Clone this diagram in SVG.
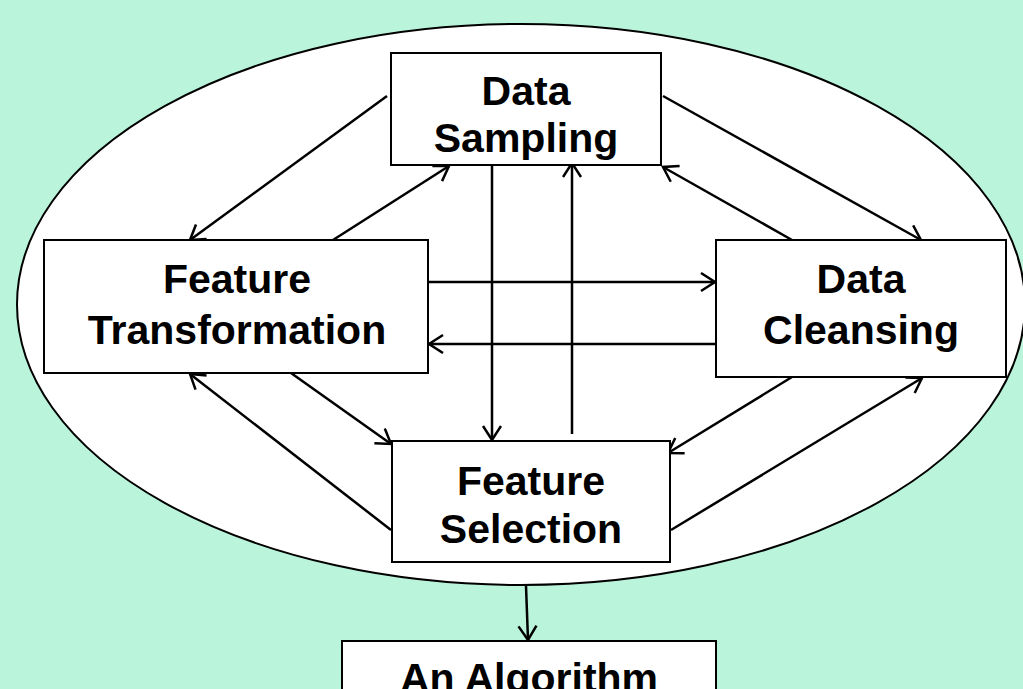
<svg xmlns="http://www.w3.org/2000/svg" width="1023" height="689" viewBox="0 0 1023 689">
<defs>
<marker id="arr" markerUnits="userSpaceOnUse" markerWidth="24" markerHeight="24" refX="15" refY="10" orient="auto">
<path d="M1,1 L15,10 L1,19" fill="none" stroke="#000" stroke-width="2.5"/>
</marker>
<style>
.box{fill:#fff;stroke:#000;stroke-width:2}
.t{font-family:"Liberation Sans",Arial,sans-serif;font-weight:bold;font-size:41px;fill:#000;text-anchor:middle}
.c{stroke:#000;stroke-width:2.5;fill:none;marker-end:url(#arr)}
</style>
</defs>
<rect x="0" y="0" width="1023" height="689" fill="#BAF4DB"/>
<ellipse cx="521" cy="304.5" rx="504" ry="280.5" fill="#fff" stroke="#000" stroke-width="2"/>
<g id="connectors">
<line class="c" x1="387" y1="96" x2="190" y2="240"/>
<line class="c" x1="333" y1="240" x2="449" y2="166"/>
<line class="c" x1="663" y1="96" x2="921" y2="240"/>
<line class="c" x1="792" y1="240" x2="663" y2="167"/>
<line class="c" x1="428" y1="282" x2="715" y2="282"/>
<line class="c" x1="716" y1="344" x2="429" y2="344"/>
<line class="c" x1="492" y1="165" x2="492" y2="440"/>
<line class="c" x1="572" y1="434" x2="572" y2="163"/>
<line class="c" x1="291" y1="373" x2="391" y2="444"/>
<line class="c" x1="391" y1="530" x2="190" y2="374"/>
<line class="c" x1="792" y1="377" x2="668" y2="453"/>
<line class="c" x1="671" y1="530" x2="922" y2="378"/>
<line class="c" x1="526" y1="586" x2="528" y2="640"/>
</g>
<g id="data-sampling">
<rect class="box" x="391" y="53" width="270" height="112"/>
<text class="t" x="526" y="105">Data</text>
<text class="t" x="526" y="152">Sampling</text>
</g>
<g id="feature-transformation">
<rect class="box" x="44" y="240" width="384" height="133"/>
<text class="t" x="237" y="293">Feature</text>
<text class="t" x="237" y="344">Transformation</text>
</g>
<g id="data-cleansing">
<rect class="box" x="716" y="240" width="290" height="137"/>
<text class="t" x="861" y="293">Data</text>
<text class="t" x="861" y="344">Cleansing</text>
</g>
<g id="feature-selection">
<rect class="box" x="392" y="441" width="278" height="121"/>
<text class="t" x="531" y="495">Feature</text>
<text class="t" x="531" y="543">Selection</text>
</g>
<g id="an-algorithm">
<rect class="box" x="342" y="641" width="374" height="60"/>
<text class="t" x="529" y="692">An Algorithm</text>
</g>
</svg>
